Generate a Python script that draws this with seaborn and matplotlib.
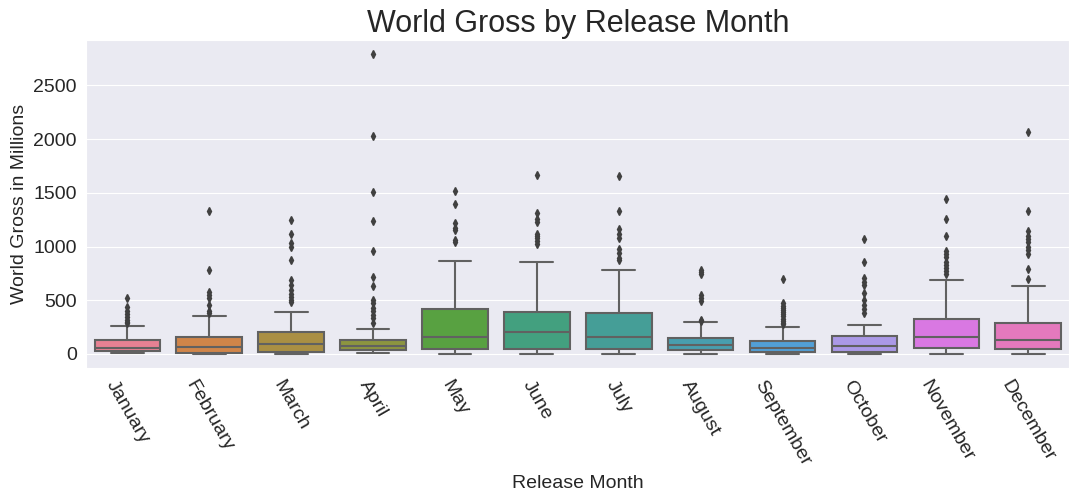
import numpy as np
import pandas as pd
import matplotlib
matplotlib.use("Agg")
import matplotlib.pyplot as plt
import seaborn as sns

# Meses y resumen de cada caja (en millones)
meses = ["January", "February", "March", "April", "May", "June",
         "July", "August", "September", "October", "November", "December"]
bigote_inf = [5, 3, 3, 5, 2, 3, 3, 4, 2, 2, 4, 3]
q1 = [31, 12, 21, 37, 49, 49, 49, 40, 21, 21, 58, 49]
mediana = [58, 61, 92, 77, 154, 200, 154, 83, 52, 70, 154, 130]
q3 = [126, 154, 200, 126, 420, 386, 377, 145, 117, 163, 327, 284]
bigote_sup = [256, 349, 386, 237, 868, 858, 785, 293, 247, 265, 692, 630]

# Valores atipicos por mes
atipicos = [
    [525, 440, 400, 370, 340, 315, 295, 285],
    [1335, 780, 575, 550, 520, 460, 400, 380],
    [1250, 1120, 1030, 1000, 875, 690, 640, 600, 560, 530, 500, 480],
    [2790, 2030, 1510, 1235, 960, 720, 630, 500, 470, 430, 400, 365, 335, 290],
    [1515, 1395, 1215, 1175, 1150, 1060, 1040],
    [1665, 1310, 1260, 1230, 1120, 1100, 1080, 1050, 1020],
    [1655, 1335, 1160, 1120, 1080, 975, 940, 890, 875],
    [780, 760, 740, 550, 520, 490, 320, 305],
    [700, 470, 450, 430, 410, 390, 370, 350, 330, 310, 290, 275],
    [1070, 855, 710, 670, 640, 570, 500, 460, 420, 385],
    [1440, 1260, 1100, 960, 930, 900, 860, 830, 800, 770, 745],
    [2065, 1330, 1145, 1100, 1070, 1040, 1000, 970, 930, 790, 700],
]


def armar_datos():
    """Expande el resumen de cada mes en una muestra con esos cuartiles"""
    filas = []
    rep = 20
    for i, mes in enumerate(meses):
        valores = ([bigote_inf[i]] + [q1[i]] * rep + [mediana[i]] * rep
                   + [q3[i]] * rep + [bigote_sup[i]] + atipicos[i])
        for v in valores:
            filas.append({"month": mes, "gross": v})
    return pd.DataFrame(filas)


df = armar_datos()

sns.set_style("darkgrid")
plt.rcParams["font.family"] = ["Liberation Sans", "DejaVu Sans"]

fig, ax = plt.subplots(figsize=(10.8, 5.04), dpi=100)
sns.boxplot(data=df, x="month", y="gross", hue="month", order=meses,
            palette="husl", legend=False, ax=ax, linewidth=1.5,
            linecolor="0.38", fliersize=4,
            flierprops={"marker": "d", "markerfacecolor": "0.25",
                        "markeredgecolor": "0.25"})

ax.set_title("World Gross by Release Month", fontsize=22)
ax.set_xlabel("Release Month", fontsize=14)
ax.set_ylabel("World Gross in Millions", fontsize=14)
ax.tick_params(axis="y", labelsize=14)
ax.tick_params(axis="x", labelsize=14)
plt.setp(ax.get_xticklabels(), rotation=-60, ha="center")
ax.set_ylim(-130, 2920)

fig.subplots_adjust(left=0.08, right=0.99, top=0.92, bottom=0.27)
fig.savefig("out.png", dpi=100)
